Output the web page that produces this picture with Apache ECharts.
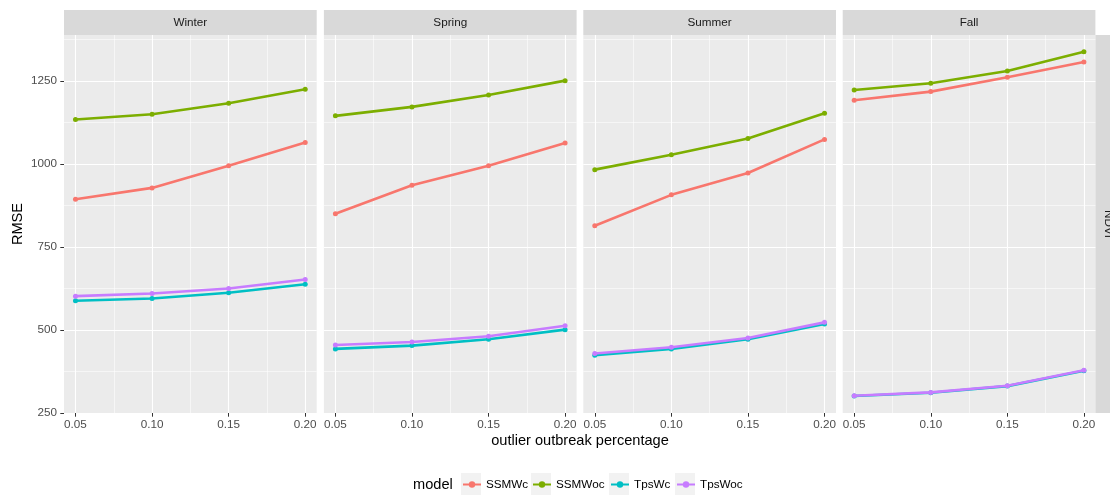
<!DOCTYPE html>
<html><head><meta charset="utf-8">
<script src="https://cdn.jsdelivr.net/npm/echarts@6/dist/echarts.min.js"></script>
<style>html,body{margin:0;padding:0;background:#fff}#c{width:1110px;height:495px}</style>
</head><body><div id="c"></div>
<script>
// ---- data ----
const xValues = [0.05, 0.10, 0.15, 0.20];
const xTicks = [0.05, 0.10, 0.15, 0.20];
const xMinorTicks = [0.075, 0.125, 0.175];
const yTicks = [250, 500, 750, 1000, 1250];
const yMinorTicks = [375, 625, 875, 1125, 1375];
const seasons = ['Winter', 'Spring', 'Summer', 'Fall'];
const models = ['SSMWc', 'SSMWoc', 'TpsWc', 'TpsWoc'];
const facetRowLabel = 'NDVI';

const winterSSMWc  = [894, 928, 995, 1065];
const winterSSMWoc = [1134, 1150, 1183, 1225];
const winterTpsWc  = [588, 595, 612, 638];
const winterTpsWoc = [602, 610, 625, 652];

const springSSMWc  = [850, 936, 995, 1063];
const springSSMWoc = [1145, 1172, 1208, 1251];
const springTpsWc  = [443, 453, 472, 501];
const springTpsWoc = [455, 464, 481, 513];

const summerSSMWc  = [814, 907, 973, 1074];
const summerSSMWoc = [983, 1028, 1077, 1153];
const summerTpsWc  = [424, 443, 472, 518];
const summerTpsWoc = [429, 448, 476, 523];

const fallSSMWc  = [1192, 1218, 1261, 1307];
const fallSSMWoc = [1223, 1243, 1280, 1338];
const fallTpsWc  = [301, 311, 331, 377];
const fallTpsWoc = [302, 312, 332, 379];

const seasonData = [
  [winterSSMWc, winterSSMWoc, winterTpsWc, winterTpsWoc],
  [springSSMWc, springSSMWoc, springTpsWc, springTpsWoc],
  [summerSSMWc, summerSSMWoc, summerTpsWc, summerTpsWoc],
  [fallSSMWc, fallSSMWoc, fallTpsWc, fallTpsWoc]
];

// ---- style / layout ----
const colors = ['#F8766D', '#7CAE00', '#00BFC4', '#C77CFF'];
const FONT = '"Liberation Sans", Arial, Helvetica, sans-serif';
const SMALL = 11.7, BIG = 14.6;
const panelLefts = [64, 323.9, 583.3, 842.7];
const panelW = 252.7, panelTop = 35, panelH = 378;
const xMin = 0.0425, xMax = 0.2075, yMin = 250, yMax = 1388.5;
const keyLefts = [461, 531, 609, 675];

const grids = [], xAxes = [], yAxes = [], series = [], graphics = [], legends = [];

seasons.forEach((s, i) => {
  grids.push({left: panelLefts[i], top: panelTop, width: panelW, height: panelH,
    show: true, backgroundColor: '#EBEBEB', borderWidth: 0, containLabel: false});
  // main x axis
  xAxes.push({gridIndex: i, type: 'value', min: xMin, max: xMax,
    axisLine: {show: false},
    axisTick: {show: true, length: 3.7, lineStyle: {color: '#333333', width: 1}, customValues: xTicks},
    axisLabel: {show: true, customValues: xTicks, formatter: v => v.toFixed(2), color: '#4D4D4D',
      fontSize: SMALL, fontFamily: FONT, margin: 6},
    splitLine: {show: true, lineStyle: {color: '#FFFFFF', width: 1.1}}
  });
  // minor x axis (grid lines only)
  xAxes.push({gridIndex: i, type: 'value', min: xMin, max: xMax, position: 'bottom',
    axisLine: {show: false},
    axisTick: {show: false, customValues: xMinorTicks},
    axisLabel: {show: false, customValues: xMinorTicks},
    splitLine: {show: true, lineStyle: {color: '#FFFFFF', width: 0.55}}
  });
  yAxes.push({gridIndex: i, type: 'value', min: yMin, max: yMax,
    axisLine: {show: false},
    axisTick: {show: i === 0, length: 3.7, lineStyle: {color: '#333333', width: 1}, customValues: yTicks},
    axisLabel: {show: i === 0, customValues: yTicks, formatter: v => String(Math.round(v)),
      color: '#4D4D4D', fontSize: SMALL, fontFamily: FONT, margin: 7},
    splitLine: {show: true, lineStyle: {color: '#FFFFFF', width: 1.1}}
  });
  yAxes.push({gridIndex: i, type: 'value', min: yMin, max: yMax, position: 'left',
    axisLine: {show: false},
    axisTick: {show: false, customValues: yMinorTicks},
    axisLabel: {show: false, customValues: yMinorTicks},
    splitLine: {show: true, lineStyle: {color: '#FFFFFF', width: 0.55}}
  });
  models.forEach((m, k) => {
    series.push({type: 'line', name: m, xAxisIndex: 2 * i, yAxisIndex: 2 * i,
      data: xValues.map((x, j) => [x, seasonData[i][k][j]]),
      symbol: 'circle', symbolSize: 5, showSymbol: true,
      lineStyle: {width: 2.6, color: colors[k]}, itemStyle: {color: colors[k]},
      emphasis: {disabled: true}, silent: true, z: 3 + k});
  });
  // strip
  graphics.push({type: 'rect', shape: {x: panelLefts[i], y: 10, width: panelW, height: 25},
    style: {fill: '#D9D9D9'}, silent: true});
  graphics.push({type: 'text', x: panelLefts[i] + panelW / 2, y: 22.5, silent: true,
    style: {text: s, fill: '#1A1A1A', font: SMALL + 'px ' + FONT, align: 'center', verticalAlign: 'middle',
      textAlign: 'center', textVerticalAlign: 'middle'}});
});

// right strip
graphics.push({type: 'rect', shape: {x: 1095.4, y: panelTop, width: 25, height: panelH},
  style: {fill: '#D9D9D9'}, silent: true});
graphics.push({type: 'text', x: 1108.3, y: panelTop + panelH / 2, rotation: -Math.PI / 2, silent: true,
  style: {text: facetRowLabel, fill: '#1A1A1A', font: SMALL + 'px ' + FONT, align: 'center', verticalAlign: 'middle',
    textAlign: 'center', textVerticalAlign: 'middle'}});
// axis titles
graphics.push({type: 'text', x: 18, y: panelTop + panelH / 2, rotation: Math.PI / 2, silent: true,
  style: {text: 'RMSE', fill: '#000000', font: BIG + 'px ' + FONT, align: 'center', verticalAlign: 'middle',
    textAlign: 'center', textVerticalAlign: 'middle'}});
graphics.push({type: 'text', x: 580, y: 441, silent: true,
  style: {text: 'outlier outbreak percentage', fill: '#000000', font: BIG + 'px ' + FONT, align: 'center',
    verticalAlign: 'middle', textAlign: 'center', textVerticalAlign: 'middle'}});
// legend title + key boxes
graphics.push({type: 'text', x: 413, y: 484.5, silent: true,
  style: {text: 'model', fill: '#000000', font: BIG + 'px ' + FONT, align: 'left', verticalAlign: 'middle',
    textAlign: 'left', textVerticalAlign: 'middle'}});
models.forEach((m, k) => {
  graphics.push({type: 'rect', z: -1, shape: {x: keyLefts[k], y: 473, width: 20, height: 23},
    style: {fill: '#F2F2F2'}, silent: true});
  legends.push({data: [m], left: keyLefts[k] + 1, top: 478.5, itemWidth: 18, itemHeight: 8, itemGap: 0,
    padding: 0, selectedMode: false, textStyle: {fontSize: SMALL, color: '#000000', fontFamily: FONT}});
});

const chart = echarts.init(document.getElementById('c'), null, {renderer: 'canvas'});
chart.setOption({
  animation: false,
  backgroundColor: '#FFFFFF',
  textStyle: {fontFamily: FONT},
  grid: grids, xAxis: xAxes, yAxis: yAxes, series: series, legend: legends,
  graphic: {elements: graphics}
});
</script></body></html>
